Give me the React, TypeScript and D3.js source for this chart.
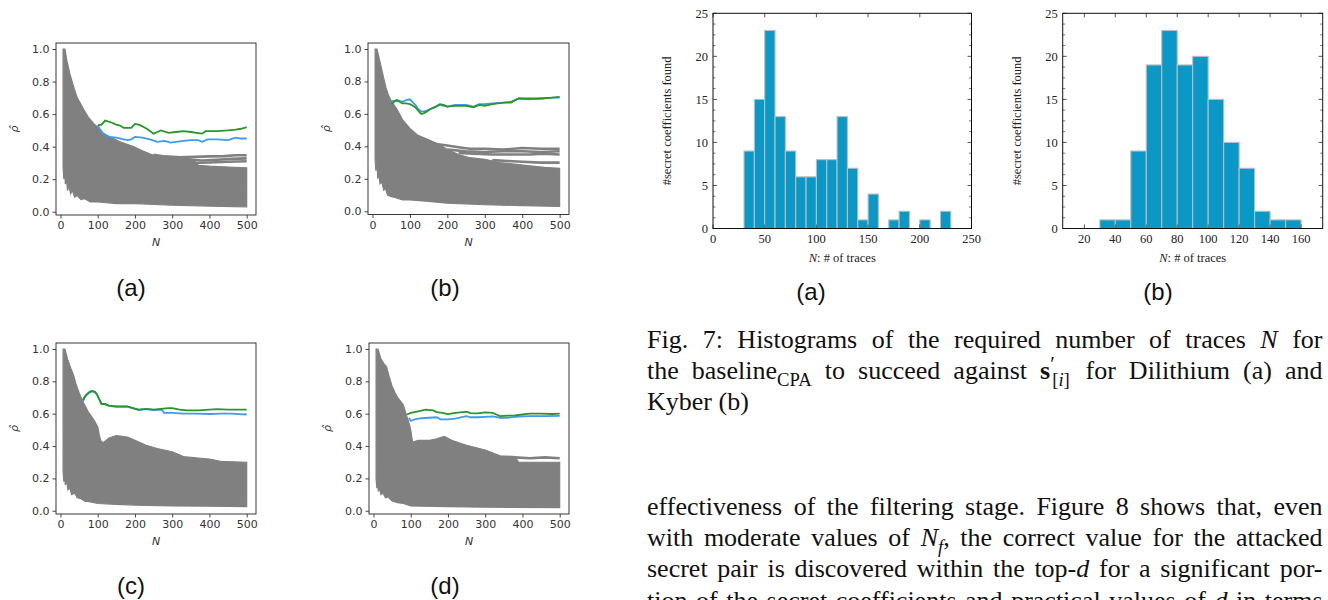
import React, { useRef, useEffect } from 'react';
import * as d3 from 'd3';

// ---- correlation panels (a)-(d): N vs rho-hat ----
const nTicks = [0, 100, 200, 300, 400, 500];
const rhoTicks = [0, 0.2, 0.4, 0.6, 0.8, 1.0];

const aUpper = [[7,1.0],[12,1.0],[17,0.93],[25,0.85],[35,0.77],[45,0.70],[55,0.66],[62,0.63],[75,0.58],[90,0.54],[100,0.52],[115,0.48],[133,0.46],[160,0.43],[196,0.40],[220,0.375],[241,0.355],[260,0.34],[286,0.335],[340,0.33],[358,0.32],[370,0.285],[400,0.28],[450,0.275],[500,0.27]];
const aLower = [[7,0.28],[9,0.2],[11,0.3],[13,0.17],[16,0.2],[19,0.13],[23,0.16],[27,0.11],[32,0.13],[38,0.09],[45,0.1],[55,0.075],[65,0.08],[80,0.06],[100,0.06],[150,0.05],[200,0.05],[300,0.04],[400,0.035],[500,0.03]];
const aOutliers = [
  [[250,0.35],[280,0.34],[320,0.335],[360,0.337],[400,0.34],[440,0.342],[470,0.347],[500,0.347]],
  [[300,0.325],[350,0.32],[380,0.315],[420,0.32],[460,0.325],[500,0.328]],
  [[360,0.30],[400,0.303],[450,0.307],[500,0.31]],
];
const aGreen = [[100,0.53],[110,0.535],[120,0.56],[135,0.55],[150,0.535],[160,0.53],[170,0.515],[190,0.515],[200,0.54],[210,0.535],[220,0.525],[235,0.505],[250,0.48],[260,0.49],[270,0.50],[290,0.485],[310,0.49],[330,0.495],[350,0.49],[365,0.485],[380,0.48],[390,0.495],[420,0.495],[450,0.50],[470,0.505],[485,0.51],[500,0.52]];
const aBlue = [[100,0.53],[108,0.50],[115,0.48],[130,0.46],[150,0.455],[170,0.445],[180,0.44],[190,0.445],[200,0.46],[220,0.455],[240,0.445],[260,0.43],[280,0.435],[295,0.425],[310,0.43],[330,0.435],[350,0.44],[370,0.44],[380,0.43],[395,0.445],[420,0.445],[450,0.44],[470,0.455],[485,0.45],[500,0.45]];

const bUpper = [[7,1.0],[12,1.0],[20,0.92],[28,0.84],[35,0.77],[42,0.72],[50,0.68],[65,0.63],[80,0.565],[100,0.51],[120,0.47],[150,0.44],[180,0.41],[200,0.38],[230,0.35],[260,0.33],[300,0.32],[340,0.30],[380,0.29],[420,0.28],[460,0.27],[500,0.265]];
const bLower = [[7,0.32],[9,0.25],[12,0.3],[14,0.2],[17,0.24],[20,0.17],[25,0.18],[30,0.13],[35,0.14],[40,0.1],[50,0.09],[60,0.085],[80,0.07],[100,0.07],[150,0.06],[200,0.05],[300,0.04],[400,0.035],[500,0.03]];
const bOutliers = [
  [[170,0.415],[200,0.405],[230,0.395],[260,0.385],[300,0.385],[350,0.38],[400,0.39],[450,0.385],[500,0.385]],
  [[200,0.38],[250,0.37],[300,0.365],[350,0.37],[400,0.37],[450,0.365],[500,0.37]],
  [[230,0.36],[270,0.355],[320,0.35],[370,0.35],[420,0.35],[460,0.355],[500,0.35]],
  [[320,0.315],[360,0.31],[400,0.305],[450,0.30],[500,0.30]],
];
const bGreen = [[50,0.66],[58,0.675],[65,0.685],[72,0.675],[80,0.665],[90,0.665],[100,0.66],[108,0.65],[115,0.64],[122,0.62],[130,0.60],[138,0.605],[145,0.615],[155,0.63],[165,0.64],[180,0.66],[190,0.655],[200,0.645],[220,0.65],[250,0.65],[270,0.64],[285,0.655],[300,0.65],[320,0.66],[350,0.67],[370,0.67],[390,0.695],[420,0.695],[450,0.695],[480,0.70],[500,0.705]];
const bBlue = [[50,0.68],[58,0.68],[65,0.685],[72,0.68],[80,0.675],[90,0.685],[100,0.69],[108,0.67],[115,0.655],[122,0.63],[130,0.615],[138,0.615],[145,0.62],[155,0.63],[165,0.64],[180,0.655],[190,0.65],[200,0.645],[220,0.655],[250,0.655],[270,0.645],[285,0.66],[300,0.66],[320,0.665],[350,0.67],[370,0.675],[390,0.695],[420,0.69],[450,0.695],[480,0.70],[500,0.70]];

const cUpper = [[7,1.0],[12,1.0],[20,0.93],[28,0.88],[35,0.84],[42,0.78],[50,0.73],[60,0.675],[75,0.61],[90,0.56],[100,0.52],[104,0.47],[108,0.435],[115,0.42],[130,0.45],[150,0.465],[180,0.455],[200,0.435],[230,0.405],[260,0.385],[300,0.365],[330,0.335],[350,0.33],[400,0.32],[430,0.305],[500,0.30]];
const cLower = [[7,0.25],[9,0.18],[11,0.24],[13,0.16],[16,0.19],[20,0.13],[25,0.14],[30,0.1],[38,0.11],[45,0.08],[55,0.075],[65,0.06],[80,0.055],[100,0.045],[150,0.04],[200,0.035],[300,0.03],[400,0.028],[500,0.025]];
const cGreen = [[60,0.685],[65,0.705],[70,0.72],[78,0.735],[85,0.74],[92,0.735],[98,0.72],[104,0.69],[110,0.66],[120,0.66],[130,0.65],[150,0.645],[170,0.645],[180,0.645],[195,0.635],[210,0.625],[230,0.63],[250,0.625],[270,0.63],[290,0.635],[300,0.635],[320,0.625],[340,0.62],[370,0.62],[400,0.625],[420,0.628],[450,0.625],[480,0.625],[500,0.625]];
const cBlue = [[60,0.675],[65,0.70],[70,0.715],[78,0.73],[85,0.74],[92,0.735],[98,0.72],[104,0.69],[110,0.66],[120,0.658],[130,0.648],[150,0.643],[170,0.643],[180,0.643],[195,0.633],[210,0.623],[230,0.628],[250,0.623],[272,0.625],[278,0.605],[300,0.605],[330,0.60],[360,0.60],[400,0.598],[430,0.60],[460,0.60],[480,0.597],[500,0.595]];

const dUpper = [[7,1.0],[12,1.0],[20,0.94],[28,0.91],[35,0.89],[42,0.83],[50,0.77],[58,0.73],[65,0.70],[80,0.655],[90,0.58],[97,0.53],[100,0.50],[105,0.425],[120,0.435],[150,0.435],[170,0.445],[190,0.46],[210,0.435],[250,0.405],[300,0.375],[340,0.34],[380,0.335],[390,0.30],[440,0.30],[500,0.30]];
const dLower = [[7,0.2],[9,0.14],[11,0.19],[13,0.12],[16,0.14],[20,0.1],[26,0.11],[32,0.08],[40,0.085],[50,0.06],[65,0.05],[80,0.045],[100,0.03],[200,0.025],[300,0.022],[500,0.02]];
const dOutliers = [
  [[380,0.33],[420,0.325],[460,0.33],[500,0.325]],
];
const dGreen = [[90,0.595],[100,0.605],[110,0.61],[120,0.615],[140,0.625],[160,0.62],[170,0.61],[185,0.605],[200,0.598],[220,0.605],[240,0.61],[250,0.612],[260,0.603],[280,0.602],[300,0.608],[320,0.605],[330,0.595],[340,0.585],[360,0.588],[380,0.59],[400,0.595],[420,0.60],[450,0.60],[480,0.598],[500,0.60]];
const dBlue = [[95,0.575],[100,0.555],[110,0.565],[130,0.572],[150,0.575],[170,0.578],[180,0.565],[200,0.565],[220,0.57],[240,0.58],[250,0.585],[260,0.578],[280,0.578],[300,0.58],[320,0.583],[340,0.575],[360,0.575],[380,0.58],[400,0.583],[420,0.585],[460,0.585],[500,0.587]];

// ---- histograms (Fig. 7) ----
const histBinsA = [30,40,50,60,70,80,90,100,110,120,130,140,150,160,170,180,190,200,210,220];
const histCountsA = [9,15,23,13,9,6,6,8,8,13,7,1,4,0,1,2,0,1,0,2];
const histBinsB = [30,40,50,60,70,80,90,100,110,120,130,140,150];
const histCountsB = [1,1,9,19,23,19,20,15,10,7,2,1,1];
const histTicksA = [0,50,100,150,200,250];
const histTicksB = [20,40,60,80,100,120,140,160];
const countTicks = [0,5,10,15,20,25];

// ---- text ----
const captionLines = [
  { j: true, w: [[['Fig.']],[['7:']],[['Histograms']],[['of']],[['the']],[['required']],[['number']],[['of']],[['traces']],[['N','it']],[['for']]] },
  { j: true, w: [[['the']],[['baseline'],['CPA','sub']],[['to']],[['succeed']],[['against']],[['s','bold'],['′','sup'],['[','sub2'],['i','subit'],[']','sub']],[['for']],[['Dilithium']],[['(a)']],[['and']]] },
  { j: false, w: [[['Kyber']],[['(b)']]] },
];
const paraLines = [
  { j: true, w: 'effectiveness of the filtering stage. Figure 8 shows that, even'.split(' ').map(s => [[s]]) },
  { j: true, w: [[['with']],[['moderate']],[['values']],[['of']],[['N','it'],['f','subit'],[',']],[['the']],[['correct']],[['value']],[['for']],[['the']],[['attacked']]] },
  { j: true, w: [[['secret']],[['pair']],[['is']],[['discovered']],[['within']],[['the']],[['top-'],['d','it']],[['for']],[['a']],[['significant']],[['por-']]] },
  { j: true, w: [[['tion']],[['of']],[['the']],[['secret']],[['coefficients']],[['and']],[['practical']],[['values']],[['of']],[['d','it']],[['in']],[['terms']]] },
];

const panels = [
  { box: [56, 256, 43, 215], upper: aUpper, lower: aLower, outliers: aOutliers, green: aGreen, blue: aBlue, label: '(a)', lx: 131, ly: 296 },
  { box: [368, 569, 43, 214.5], upper: bUpper, lower: bLower, outliers: bOutliers, green: bGreen, blue: bBlue, label: '(b)', lx: 445, ly: 296 },
  { box: [56, 256, 343, 514], upper: cUpper, lower: cLower, outliers: [], green: cGreen, blue: cBlue, label: '(c)', lx: 131, ly: 594 },
  { box: [369, 569, 343, 514], upper: dUpper, lower: dLower, outliers: dOutliers, green: dGreen, blue: dBlue, label: '(d)', lx: 445, ly: 594 },
];

const hists = [
  { box: [713, 971.5, 13.3, 228.5], dom: [0, 250], bins: histBinsA, counts: histCountsA, ticks: histTicksA, label: '(a)', lx: 811, ylx: 671 },
  { box: [1062.7, 1322.7, 13.3, 228.5], dom: [6, 174], bins: histBinsB, counts: histCountsB, ticks: histTicksB, label: '(b)', lx: 1158, ylx: 1021 },
];

const MPL = 'DejaVu Sans, sans-serif';
const SERIF = 'Liberation Serif, Times New Roman, serif';

const App = () => {
  const svgRef = useRef(null);

  useEffect(() => {
    document.body.style.margin = '0';
    const svg = d3.select(svgRef.current);
    svg.selectAll('*').remove();

    // line-chart panels
    panels.forEach(p => {
      const [l, r, t, b] = p.box;
      const x = d3.scaleLinear().domain([-12, 525]).range([l, r]);
      const y = d3.scaleLinear().domain([-0.02, 1.037]).range([b, t]);
      const g = svg.append('g');
      const line = d3.line().x(d => x(d[0])).y(d => y(d[1]));

      const poly = p.upper.concat(p.lower.slice().reverse());
      g.append('path').attr('d', line(poly) + 'Z').attr('fill', '#808080').attr('stroke', '#808080').attr('stroke-width', 1.2);
      p.outliers.forEach(o => {
        g.append('path').attr('d', line(o)).attr('fill', 'none').attr('stroke', '#808080').attr('stroke-width', 2.6);
      });
      g.append('path').attr('d', line(p.blue)).attr('fill', 'none').attr('stroke', '#3d9bf3').attr('stroke-width', 1.8);
      g.append('path').attr('d', line(p.green)).attr('fill', 'none').attr('stroke', '#2a962a').attr('stroke-width', 1.8);

      g.append('rect').attr('x', l).attr('y', t).attr('width', r - l).attr('height', b - t)
        .attr('fill', 'none').attr('stroke', '#222').attr('stroke-width', 0.9);

      const xAxis = g.append('g').attr('transform', `translate(0,${b})`)
        .call(d3.axisBottom(x).tickValues(nTicks).tickSize(3.5).tickPadding(3).tickFormat(d3.format('d')));
      const yAxis = g.append('g').attr('transform', `translate(${l},0)`)
        .call(d3.axisLeft(y).tickValues(rhoTicks).tickSize(3.5).tickPadding(3).tickFormat(d3.format('.1f')));
      [xAxis, yAxis].forEach(a => {
        a.select('.domain').remove();
        a.selectAll('line').attr('stroke', '#333').attr('stroke-width', 0.9);
        a.selectAll('text').attr('font-family', MPL).attr('font-size', 11).attr('fill', '#333');
      });

      g.append('text').attr('x', (l + r) / 2).attr('y', b + 31).attr('text-anchor', 'middle')
        .attr('font-family', MPL).attr('font-size', 11).attr('font-style', 'italic').attr('fill', '#333').text('N');
      g.append('text').attr('transform', `translate(${l - 38},${(t + b) / 2}) rotate(-90)`).attr('text-anchor', 'middle')
        .attr('font-family', MPL).attr('font-size', 11).attr('font-style', 'italic').attr('fill', '#333').text('ρ̂');
      g.append('text').attr('x', p.lx).attr('y', p.ly).attr('text-anchor', 'middle')
        .attr('font-family', 'Liberation Sans, Arial, sans-serif').attr('font-size', 24).attr('fill', '#111').text(p.label);
    });

    // histograms
    hists.forEach(h => {
      const [l, r, t, b] = h.box;
      const x = d3.scaleLinear().domain(h.dom).range([l, r]);
      const y = d3.scaleLinear().domain([0, 25]).range([b, t]);
      const g = svg.append('g');

      h.bins.forEach((b0, i) => {
        if (!h.counts[i]) return;
        g.append('rect').attr('x', x(b0)).attr('y', y(h.counts[i]))
          .attr('width', x(b0 + 10) - x(b0)).attr('height', y(0) - y(h.counts[i]))
          .attr('fill', '#0a98c6').attr('stroke', '#bdbdbd').attr('stroke-width', 1.1);
      });

      const minor = d3.range(0, 25, 1.25).filter(v => v % 5 !== 0);
      h.ticks.forEach(v => {
        g.append('line').attr('x1', x(v)).attr('x2', x(v)).attr('y1', b).attr('y2', b - 4).attr('stroke', '#555');
        g.append('line').attr('x1', x(v)).attr('x2', x(v)).attr('y1', t).attr('y2', t + 4).attr('stroke', '#555');
        g.append('text').attr('x', x(v)).attr('y', b + 14).attr('text-anchor', 'middle')
          .attr('font-family', SERIF).attr('font-size', 12.5).attr('fill', '#222').text(v);
      });
      countTicks.forEach(v => {
        g.append('line').attr('x1', l).attr('x2', l + 4).attr('y1', y(v)).attr('y2', y(v)).attr('stroke', '#555');
        g.append('line').attr('x1', r).attr('x2', r - 4).attr('y1', y(v)).attr('y2', y(v)).attr('stroke', '#555');
        g.append('text').attr('x', l - 5).attr('y', y(v)).attr('dy', '0.35em').attr('text-anchor', 'end')
          .attr('font-family', SERIF).attr('font-size', 12.5).attr('fill', '#222').text(v);
      });
      minor.forEach(v => {
        g.append('line').attr('x1', l).attr('x2', l + 2.5).attr('y1', y(v)).attr('y2', y(v)).attr('stroke', '#777');
        g.append('line').attr('x1', r).attr('x2', r - 2.5).attr('y1', y(v)).attr('y2', y(v)).attr('stroke', '#777');
      });
      g.append('rect').attr('x', l).attr('y', t).attr('width', r - l).attr('height', b - t)
        .attr('fill', 'none').attr('stroke', '#111').attr('stroke-width', 1);

      const xl = g.append('text').attr('x', (l + r) / 2).attr('y', b + 33).attr('text-anchor', 'middle')
        .attr('font-family', SERIF).attr('font-size', 12.5).attr('fill', '#222');
      xl.append('tspan').attr('font-style', 'italic').text('N');
      xl.append('tspan').text(': # of traces');
      g.append('text').attr('transform', `translate(${h.ylx},${(t + b) / 2}) rotate(-90)`).attr('text-anchor', 'middle')
        .attr('font-family', SERIF).attr('font-size', 12.5).attr('fill', '#222').text('#secret coefficients found');
      g.append('text').attr('x', h.lx).attr('y', 300).attr('text-anchor', 'middle')
        .attr('font-family', 'Liberation Sans, Arial, sans-serif').attr('font-size', 24).attr('fill', '#111').text(h.label);
    });

    // justified paper text
    const fs = 26;
    const drawLines = (lines, x0, x1, y0, lh) => {
      lines.forEach((ln, li) => {
        const yy = y0 + li * lh;
        const nodes = ln.w.map(word => {
          const t = svg.append('text').attr('y', yy).attr('font-family', SERIF).attr('font-size', fs).attr('fill', '#111');
          let off = 0;
          word.forEach(([s, st]) => {
            const sp = t.append('tspan').text(s);
            let target = 0;
            if (st === 'it') sp.attr('font-style', 'italic');
            if (st === 'bold') sp.attr('font-weight', 'bold');
            if (st === 'sub' || st === 'sub2' || st === 'subit') { target = fs * 0.25; sp.attr('font-size', fs * 0.72); }
            if (st === 'subit') sp.attr('font-style', 'italic');
            if (st === 'sup') { target = -fs * 0.3; sp.attr('font-size', fs * 0.8); }
            if (st === 'sub2') sp.attr('dx', -fs * 0.1);
            sp.attr('dy', target - off);
            off = target;
          });
          return t;
        });
        const widths = nodes.map(n => n.node().getComputedTextLength());
        const total = d3.sum(widths);
        const gap = ln.j ? (x1 - x0 - total) / (nodes.length - 1) : fs * 0.25;
        let cx = x0;
        nodes.forEach((n, i) => { n.attr('x', cx); cx += widths[i] + gap; });
      });
    };
    drawLines(captionLines, 647, 1322.5, 348, 31);
    drawLines(paraLines, 647, 1322.5, 515, 31.2);
  }, []);

  return <svg ref={svgRef} width={1328} height={600} style={{ display: 'block', background: '#fff' }} />;
};

export default App;
